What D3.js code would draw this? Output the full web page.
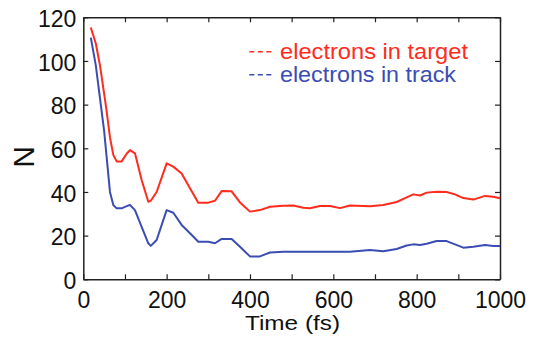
<!DOCTYPE html>
<html>
<head>
<meta charset="utf-8">
<script src="https://cdn.jsdelivr.net/npm/d3@7"></script>
<style>
  body { margin: 0; background: #fff; }
  text { font-family: "Liberation Sans", Arial, Helvetica, sans-serif; }
</style>
</head>
<body>
<div id="chart"></div>
<script>
// time in fs
const time = [18, 30, 40, 50, 56, 64, 72, 80, 92, 104, 112, 124, 140, 156, 162, 176,
  200, 216, 236, 256, 276, 300, 316, 332, 356, 376, 400, 424, 448, 480, 504, 528,
  544, 568, 592, 616, 640, 688, 720, 752, 776, 792, 808, 824, 848, 872, 892, 912,
  936, 964, 984, 1000];
const inTarget = [115.3, 108, 98, 85, 77, 65, 57, 54, 54, 57.5, 59.2, 57.7, 45.5, 35.5, 36, 40,
  53.1, 51.6, 48.5, 41.7, 35.1, 35.1, 36, 40.4, 40.3, 35.2, 31, 31.7, 33.2, 33.7, 33.8, 32.8,
  32.5, 33.6, 33.6, 32.6, 33.8, 33.5, 34, 35.4, 37.5, 38.9, 38.4, 39.7, 40.1, 40, 38.9, 37.2,
  36.5, 38.2, 37.8, 37.1];
const inTrack = [110.7, 98, 83, 68, 56, 40, 34, 32.5, 32.5, 33.5, 34, 31.7, 24, 16.5, 15.3, 18,
  31.7, 30.5, 24.9, 21.1, 17.2, 17.2, 16.5, 18.5, 18.5, 14.9, 10.5, 10.5, 12.3, 12.6, 12.6, 12.6,
  12.6, 12.6, 12.6, 12.6, 12.6, 13.4, 12.8, 13.9, 15.5, 16, 15.7, 16.3, 17.5, 17.5, 16, 14.5,
  14.9, 15.7, 15.3, 15.3];

const seriesNames = ['electrons in target', 'electrons in track'];
const colors = ['#ff2b1c', '#3b4db3'];
const xTicks = d3.range(0, 1001, 100);
const xLabels = d3.range(0, 1001, 200);
const yTicks = d3.range(0, 121, 20);

const margin = { top: 17.3, right: 35, bottom: 58.7, left: 83.3 };
const width = 535 - margin.left - margin.right;
const height = 338 - margin.top - margin.bottom;

const svg = d3.select('#chart')
  .append('svg')
    .attr('width', 535)
    .attr('height', 338);

const chart = svg.append('g')
    .attr('transform', `translate(${margin.left},${margin.top})`);

const x = d3.scaleLinear().domain([0, 1000]).range([0, width]);
const y = d3.scaleLinear().domain([0, 120]).range([height, 0]);

function styleAxis(g) {
  g.select('.domain').attr('stroke', '#222').attr('stroke-width', 1.5);
  g.selectAll('.tick line').attr('stroke', '#222').attr('stroke-width', 1.2);
  g.selectAll('.tick text')
    .attr('fill', '#111')
    .style('font-size', '23px');
}

// bottom axis: ticks every 100, labels every 200
chart.append('g')
    .attr('transform', `translate(0,${height})`)
    .call(d3.axisBottom(x).tickValues(xTicks).tickSizeInner(-5).tickSizeOuter(0)
      .tickPadding(12.5)
      .tickFormat(d => xLabels.includes(d) ? d : ''))
    .call(styleAxis);

chart.append('g')
    .call(d3.axisTop(x).tickValues(xTicks).tickSizeInner(-5).tickSizeOuter(0).tickFormat(''))
    .call(styleAxis);

chart.append('g')
    .call(d3.axisLeft(y).tickValues(yTicks).tickSizeInner(-5).tickSizeOuter(0).tickPadding(7))
    .call(styleAxis)
    .call(g => g.selectAll('.tick text').attr('dy', '0.4em'));

chart.append('g')
    .attr('transform', `translate(${width},0)`)
    .call(d3.axisRight(y).tickValues(yTicks).tickSizeInner(-5).tickSizeOuter(0).tickFormat(''))
    .call(styleAxis);

svg.selectAll('.tick text').attr('font-family', null);

// curves
const line = d3.line()
  .x(d => x(d[0]))
  .y(d => y(d[1]));

[inTarget, inTrack].forEach((vals, i) => {
  chart.append('path')
    .datum(time.map((t, k) => [t, vals[k]]))
    .attr('fill', 'none')
    .attr('stroke', colors[i])
    .attr('stroke-width', 2)
    .attr('stroke-linejoin', 'round')
    .attr('d', line);
});

// legend
seriesNames.forEach((name, i) => {
  const ly = 51.7 + i * 23;
  svg.append('line')
    .attr('x1', 249.3).attr('x2', 272)
    .attr('y1', ly).attr('y2', ly)
    .attr('stroke', colors[i])
    .attr('stroke-width', 1.6)
    .attr('stroke-dasharray', '5,3.5');
  svg.append('text')
    .attr('x', 280)
    .attr('y', ly + 7.5)
    .attr('fill', colors[i])
    .style('font-size', '22.5px')
    .attr('textLength', i === 0 ? 188 : 176)
    .attr('lengthAdjust', 'spacingAndGlyphs')
    .text(name);
});

// axis titles
svg.append('text')
    .attr('x', 245)
    .attr('y', 330)
    .attr('textLength', 95)
    .attr('lengthAdjust', 'spacingAndGlyphs')
    .attr('fill', '#111')
    .style('font-size', '20px')
    .text('Time (fs)');

svg.append('text')
    .attr('transform', 'translate(34,157) rotate(-90)')
    .attr('text-anchor', 'middle')
    .attr('fill', '#111')
    .style('font-size', '30px')
    .text('N');
</script>
</body>
</html>
